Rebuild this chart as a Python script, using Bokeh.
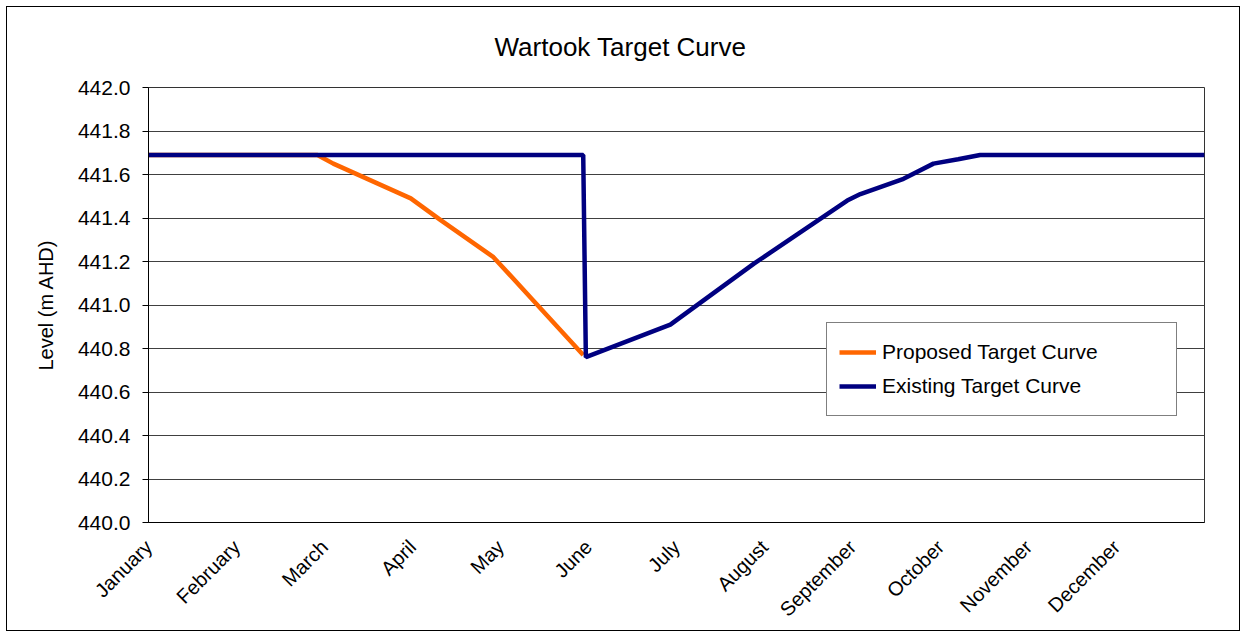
from bokeh.plotting import figure
from bokeh.models import (ColumnDataSource, Legend, LegendItem, FixedTicker, NumeralTickFormatter,
                          Range1d)
from bokeh.embed import file_html
from bokeh.resources import INLINE
import math

# ---- data ----
months = ["January", "February", "March", "April", "May", "June",
          "July", "August", "September", "October", "November", "December"]

proposed_x = [0.0, 1.92, 2.10, 2.98, 3.32, 3.92, 4.375, 4.94]
proposed_y = [441.69, 441.69, 441.65, 441.49, 441.39, 441.22, 441.02, 440.77]

existing_x = [0.0, 4.94, 4.97, 5.93, 6.88, 7.94, 8.09, 8.58, 8.92, 9.20, 9.45, 12.0]
existing_y = [441.69, 441.69, 440.76, 440.91, 441.19, 441.48, 441.51, 441.58, 441.65, 441.67, 441.69, 441.69]

y_ticks = [440.0, 440.2, 440.4, 440.6, 440.8, 441.0, 441.2, 441.4, 441.6, 441.8, 442.0]
y_min, y_max = 440.0, 442.0

FONT = "Liberation Sans"

p = figure(width=1234, height=625, output_backend="svg", toolbar_location=None,
           x_range=Range1d(0, len(months)), y_range=Range1d(y_min, y_max),
           min_border_left=141, min_border_right=37, min_border_top=79, min_border_bottom=110,
           title="Wartook Target Curve")
p.styles = {"border": "1px solid #000000", "box-sizing": "border-box",
            "margin-left": "6px", "margin-top": "6px"}
p.background_fill_color = "white"
p.border_fill_color = "white"
p.outline_line_color = "#333333"
p.outline_line_width = 1

p.title.text_font = FONT
p.title.text_font_size = "26px"
p.title.text_font_style = "normal"
p.title.text_color = "black"
p.title.align = "left"
p.title.vertical_align = "top"
p.title.offset = 346
p.title.standoff = 48

src_p = ColumnDataSource(dict(x=proposed_x, y=proposed_y))
src_e = ColumnDataSource(dict(x=existing_x, y=existing_y))
r_p = p.line("x", "y", source=src_p, line_color="#FF6600", line_width=4.5)
r_e = p.line("x", "y", source=src_e, line_color="#000080", line_width=4.5)

# x axis: ticks at month starts, rotated month names
p.xaxis.ticker = FixedTicker(ticks=list(range(len(months))))
p.xaxis.major_label_overrides = {i: m for i, m in enumerate(months)}
p.xaxis.major_label_orientation = math.pi / 4
p.xaxis.major_label_text_font = FONT
p.xaxis.major_label_text_font_size = "20px"
p.xaxis.major_label_text_color = "black"
p.xaxis.major_label_standoff = 21
p.xaxis.major_tick_out = 0
p.xaxis.major_tick_in = 0
p.xaxis.major_tick_line_color = None
p.xaxis.minor_tick_line_color = None
p.xaxis.axis_line_color = "black"

p.yaxis.ticker = FixedTicker(ticks=y_ticks)
p.yaxis.formatter = NumeralTickFormatter(format="0.0")
p.yaxis.major_label_text_font = FONT
p.yaxis.major_label_text_font_size = "21px"
p.yaxis.major_label_text_color = "black"
p.yaxis.major_tick_out = 6
p.yaxis.major_tick_in = 0
p.yaxis.major_tick_line_color = "black"
p.yaxis.minor_tick_line_color = None
p.yaxis.axis_line_color = "black"
p.yaxis.major_label_standoff = 12
p.yaxis.axis_label = "Level (m AHD)"
p.yaxis.axis_label_text_font = FONT
p.yaxis.axis_label_text_font_size = "20px"
p.yaxis.axis_label_text_font_style = "normal"
p.yaxis.axis_label_text_color = "black"
p.yaxis.axis_label_standoff = 18

p.xgrid.grid_line_color = None
p.ygrid.ticker = FixedTicker(ticks=y_ticks)
p.ygrid.grid_line_color = "#404040"
p.ygrid.grid_line_width = 1

legend = Legend(items=[LegendItem(label="Proposed Target Curve", renderers=[r_p]),
                       LegendItem(label="Existing Target Curve", renderers=[r_e])],
                location=(678, 106))
legend.label_text_font = FONT
legend.label_text_font_size = "21px"
legend.label_text_color = "black"
legend.glyph_width = 37
legend.glyph_height = 34
legend.label_height = 34
legend.label_standoff = 6
legend.label_width = 282
legend.padding = 12
legend.spacing = 0
legend.border_line_color = "black"
legend.border_line_width = 1
legend.background_fill_color = "white"
legend.background_fill_alpha = 1.0
legend.margin = 0
p.add_layout(legend, "center")

open("out.html", "w").write(file_html(p, INLINE))
